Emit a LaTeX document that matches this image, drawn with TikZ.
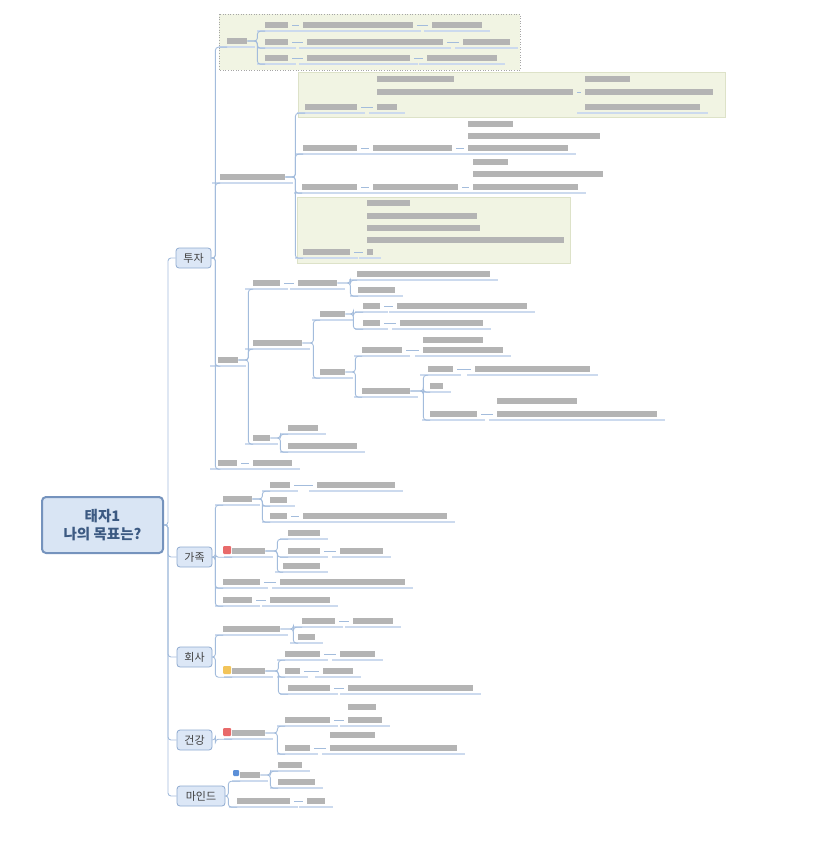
\documentclass[tikz,border=0pt]{standalone}
\usepackage{fontspec}
\setmainfont{Noto Sans CJK KR}
\usetikzlibrary{positioning}
\definecolor{rootfill}{HTML}{D9E5F4}
\definecolor{rootedge}{HTML}{7593BD}
\definecolor{roottext}{HTML}{3C5A82}
\definecolor{branchfill}{HTML}{DCE7F6}
\definecolor{branchedge}{HTML}{8FAAD0}
\definecolor{linkblue}{HTML}{A3BCDC}
\definecolor{ulblue}{HTML}{CCDAEE}
\definecolor{textgrey}{HTML}{B4B4B4}
\definecolor{boxgreen}{HTML}{F1F4E3}
\definecolor{boxedge}{HTML}{DDE2C8}
\definecolor{iconred}{HTML}{E86A6A}
\definecolor{iconyellow}{HTML}{F2C45A}
\definecolor{iconblue}{HTML}{5B8FD8}

\begin{document}
\begin{tikzpicture}[x=1pt, y=-1pt,
  root/.style={rectangle, draw=rootedge, fill=rootfill, line width=2pt, rounded corners=4pt, minimum width=121pt, minimum height=56pt, align=center, font=\bfseries\fontsize{14.5}{18}\selectfont, text=roottext},
  branch/.style={rectangle, draw=branchedge, fill=branchfill, line width=0.8pt, rounded corners=3pt, minimum width=35pt, minimum height=20pt, inner sep=2pt, font=\fontsize{11}{13}\selectfont, text=black!75},
  txtline/.style={rectangle, fill=textgrey, inner sep=0pt, minimum height=6pt, anchor=west},
  txt/.style={txtline, append after command={([xshift=-8pt,yshift=-3pt]\tikzlastnode.south west) edge[uline] ([xshift=8pt,yshift=-3pt]\tikzlastnode.south east)}},
  uline/.style={draw=ulblue, line width=2.4pt},
  link/.style={draw=linkblue, line width=0.9pt, rounded corners=3pt},
  icon/.style={rectangle, inner sep=0pt, minimum size=8pt, rounded corners=1pt, anchor=west},
  boxbg/.style={fill=boxgreen, draw=boxedge, line width=0.6pt}
]
  \useasboundingbox (0,0) rectangle (827,850);

  % Boxes
  \draw[boxbg, draw=black!35, dotted] (219,14) rectangle (520,70);
  \draw[boxbg] (298,72) rectangle (725,117);
  \draw[boxbg] (297,197) rectangle (570,263);

  % Root and branches
  \node[root] (root) at (102.5,525) {태자1\\나의 목표는?};
  \node[branch] (tuja) at (193.5,258) {투자};
  \node[branch] (gajok) at (194.5,557) {가족};
  \node[branch] (hoesa) at (194.5,657) {회사};
  \node[branch] (geongang) at (194.5,740) {건강};
  \node[branch, minimum width=48pt] (mind) at (201,796) {마인드};

  % Icons
  \node[icon, fill=iconred] (gBi) at (223,550) {};
  \node[icon, fill=iconyellow] (hBi) at (223,670) {};
  \node[icon, fill=iconred] (kAi) at (223,732) {};
  \node[icon, fill=iconblue, minimum size=6pt] (mAi) at (233,773) {};

  % Topics
  \foreach \n/\x/\y/\w in {tTop/227/41/20, tr1a/265/25/23, tr1b/303/25/110, tr1c/432/25/50,
      tr2a/265/42/23, tr2b/307/42/136, tr2c/463/42/47, tr3a/265/58/23, tr3b/307/58/103, tr3c/427/58/70,
      tSub/220/177/65, sA/305/107/52, sA1c/377/107/20, sA2c/585/107/115,
      sB/303/148/54, sBt/373/148/79, sBm/468/148/100, sC/302/187/55, sCt/373/187/85, sCm/473/187/105,
      sD/303/252/47, sDm/367/252/6,
      tR/218/360/20, rA/253/283/27, rA1/298/283/39, rA1a/357/274/133, rA1b/358/290/37,
      rB/253/343/49, rB1/320/314/25, rB1a/363/306/17, rB1at/397/306/130, rB1b/363/323/17, rB1bt/400/323/83,
      rB2/320/372/25, rB2a/362/350/40, rB2am/423/350/80, rB2b/362/391/48,
      rB2b1/428/369/25, rB2b1t/475/369/115, rB2b2/430/386/13, rB2b3/430/414/47, rB2b3m/497/414/160,
      rC/253/438/17, rC1/288/428/30, rC2/288/446/69, tS/218/463/19, tSt/253/463/39,
      gA/223/499/29, gA1/270/485/20, gA1t/317/485/78, gA2/270/500/17, gA3/270/516/17, gA3t/303/516/144,
      gB/232/551/33, gB1/288/533/32, gB2/288/551/32, gB2t/340/551/43, gB3/283/566/37,
      gC/223/582/37, gCt/280/582/125, gD/223/600/29, gDt/270/600/60,
      hA/223/629/57, hA1/302/621/33, hA1t/353/621/40, hA2/298/637/17,
      hB/232/671/33, hB1/285/654/35, hB1t/340/654/35, hB2/285/671/15, hB2t/323/671/30, hB3/288/688/42, hB3t/348/688/125,
      kA/232/733/33, kA1/285/720/45, kA1m/348/720/34, kA2/285/748/25, kA2m/330/748/127,
      mA/240/775/20, mA1/278/765/24, mA2/278/782/37, mB/237/801/53, mBt/307/801/18}
    \node[txt, minimum width=\w] (\n) at (\x,\y) {};

  % Upper lines of blocks
  \foreach \n/\x/\y/\w in {sA1a/377/79/77, sA1b/377/92/196, sA2a/585/79/45, sA2b/585/92/128,
      sBm1/468/124/45, sBm2/468/136/132, sCm1/473/162/35, sCm2/473/174/130,
      sDm1/367/203/43, sDm2/367/216/110, sDm3/367/228/113, sDm4/367/240/197,
      rB2am1/423/340/60, rB2b3m1/497/401/80, kA1m1/348/707/28, kA2m1/330/735/45}
    \node[txtline, minimum width=\w] (\n) at (\x,\y) {};

  % Main trunk
  \foreach \b in {tuja,gajok,hoesa,geongang,mind}
    \draw[link] (root.east) -- ++(4,0) |- (\b.west);

  % Connectors
  \foreach \p/\d/\c in {tuja/4/tTop, tuja/4/tSub, tuja/4/tR, tuja/4/tS,
      tTop/10/tr1a, tTop/10/tr2a, tTop/10/tr3a,
      tSub/10/sA, tSub/10/sB, tSub/10/sC, tSub/10/sD,
      tR/10/rA, tR/10/rB, tR/10/rC, rA1/13/rA1a, rA1/13/rA1b,
      rB/11/rB1, rB/11/rB2, rB1/8/rB1a, rB1/8/rB1b, rB2/10/rB2a, rB2/10/rB2b,
      rB2b/13/rB2b1, rB2b/13/rB2b2, rB2b/13/rB2b3, rC/10/rC1, rC/10/rC2,
      gajok/3/gA, gajok/3/gB, gajok/3/gC, gajok/3/gD, gA/10/gA1, gA/10/gA2, gA/10/gA3,
      gB/12/gB1, gB/12/gB2, gB/12/gB3,
      hoesa/3/hA, hoesa/3/hB, hA/13/hA1, hA/13/hA2, hB/13/hB1, hB/13/hB2, hB/13/hB3,
      geongang/3/kA, kA/12/kA1, kA/12/kA2,
      mind/3/mA, mind/3/mB, mA/10/mA1, mA/10/mA2}
    \draw[link] (\p.east) -- ++(\d,0) |- ([yshift=-3pt]\c.south west);

  % Inline joints
  \foreach \a/\b in {tr1a/tr1b, tr1b/tr1c, tr2a/tr2b, tr2b/tr2c, tr3a/tr3b, tr3b/tr3c,
      sA/sA1c, sA1b/sA2b, sB/sBt, sBt/sBm, sC/sCt, sCt/sCm, sD/sDm,
      rA/rA1, rB1a/rB1at, rB1b/rB1bt, rB2a/rB2am, rB2b1/rB2b1t, rB2b3/rB2b3m, tS/tSt,
      gA1/gA1t, gA3/gA3t, gB2/gB2t, gC/gCt, gD/gDt,
      hA1/hA1t, hB1/hB1t, hB2/hB2t, hB3/hB3t, kA1/kA1m, kA2/kA2m, mB/mBt}
    \draw[link] ([xshift=4pt]\a.east) -- ([xshift=-4pt]\b.west);
\end{tikzpicture}
\end{document}
